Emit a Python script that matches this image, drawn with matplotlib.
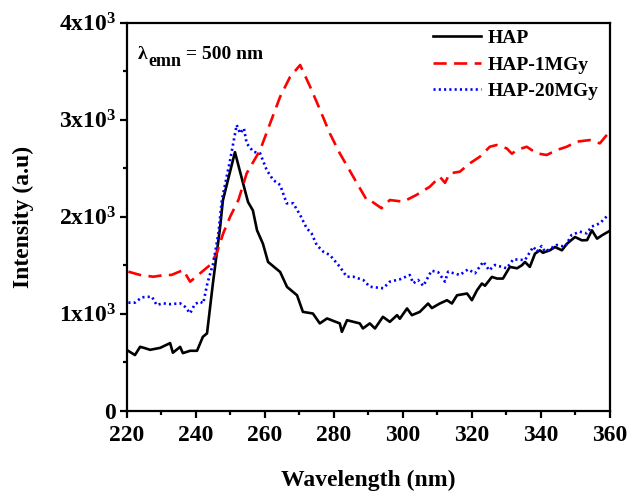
import matplotlib
matplotlib.use("Agg")
import matplotlib.pyplot as plt
from matplotlib.ticker import MultipleLocator, FixedLocator, FixedFormatter

plt.rcParams.update({
    "font.family": ["Liberation Serif", "DejaVu Serif"],
    "font.weight": "bold",
    "mathtext.fontset": "custom",
    "mathtext.rm": "Liberation Serif:bold",
    "mathtext.bf": "Liberation Serif:bold",
    "mathtext.it": "Liberation Serif:bold",
    "mathtext.default": "bf",
})

# HAP (black solid)
hap_x = [220.0, 222.3, 223.8, 225.2, 226.7, 229.6, 232.5, 233.3, 235.4, 236.2,
         238.3, 240.3, 242.0, 243.2, 244.9, 247.0, 247.8, 249.0, 251.3, 254.2,
         255.1, 256.5, 257.7, 259.4, 260.9, 264.4, 266.4, 269.3, 271.0, 273.9,
         275.9, 278.0, 281.7, 282.3, 283.8, 287.5, 288.4, 290.4, 291.9, 294.2,
         296.2, 298.3, 299.1, 301.2, 302.6, 304.9, 307.3, 308.4, 310.7, 312.8,
         314.2, 315.7, 318.6, 320.0, 321.5, 322.9, 323.8, 325.8, 327.3, 329.0,
         331.0, 333.1, 334.5, 335.4, 336.8, 338.3, 339.7, 340.6, 342.6, 344.1,
         346.1, 347.6, 349.9, 351.9, 353.4, 354.8, 356.3, 357.7, 359.7]
hap_y = [627, 576, 661, 647, 630, 650, 699, 600, 660, 596,
         620, 620, 764, 799, 1313, 1895, 2169, 2341, 2666, 2272,
         2152, 2066, 1861, 1724, 1535, 1432, 1278, 1192, 1021, 1004,
         902, 953, 902, 815, 935, 902, 850, 902, 850, 970,
         918, 987, 950, 1056, 987, 1021, 1107, 1060, 1107, 1141,
         1107, 1192, 1210, 1141, 1244, 1313, 1290, 1381, 1364, 1364,
         1484, 1470, 1501, 1535, 1484, 1621, 1655, 1630, 1655, 1689,
         1655, 1724, 1792, 1758, 1760, 1861, 1775, 1809, 1850]

# HAP-1MGy (red dashed)
mgy1_x = [220.4, 223.8, 227.6, 231.0, 232.9, 236.3, 238.3, 241.2, 244.1, 246.0,
          247.9, 249.9, 252.3, 254.7, 258.6, 261.5, 264.4, 267.3, 270.2, 273.1,
          276.0, 278.8, 281.7, 285.6, 289.5, 290.4, 293.8, 296.2, 300.1, 303.9,
          307.8, 310.7, 312.2, 313.6, 316.5, 319.4, 322.3, 325.2, 327.2, 330.1,
          331.6, 333.0, 335.9, 338.8, 341.7, 344.6, 347.5, 350.4, 354.2, 357.1,
          359.5]
mgy1_y = [1435, 1401, 1383, 1401, 1401, 1452, 1332, 1418, 1504, 1624,
          1830, 2001, 2173, 2448, 2688, 2963, 3237, 3443, 3564, 3340,
          3100, 2860, 2654, 2413, 2173, 2173, 2088, 2173, 2156, 2225,
          2310, 2413, 2350, 2448, 2465, 2551, 2619, 2722, 2740, 2705,
          2650, 2688, 2722, 2654, 2637, 2688, 2722, 2774, 2791, 2757,
          2860]

# HAP-20MGy (blue dotted)
mgy20_x = [220.4, 222.3, 224.3, 227.2, 228.6, 230.5, 232.5, 235.4, 236.8, 238.3,
           239.7, 241.2, 242.1, 243.3, 245.0, 246.5, 247.5, 249.9, 250.8, 251.8,
           252.8, 253.9, 254.7, 256.6, 258.6, 260.5, 262.4, 264.4, 266.3, 268.2,
           270.2, 272.1, 273.5, 275.0, 276.9, 278.8, 281.7, 283.7, 285.6, 288.5,
           290.4, 294.3, 296.2, 299.1, 302.0, 303.0, 304.4, 305.9, 308.3, 310.2,
           312.2, 313.1, 316.5, 318.9, 320.9, 323.3, 325.0, 326.7, 330.1, 332.0,
           335.4, 337.8, 338.9, 340.2, 341.2, 344.6, 347.0, 348.9, 351.3, 353.3,
           354.7, 357.1, 359.5]
mgy20_y = [1116, 1116, 1171, 1178, 1092, 1109, 1100, 1109, 1074, 1006,
           1102, 1126, 1109, 1315, 1521, 1830, 2173, 2585, 2757, 2946,
           2860, 2912, 2757, 2671, 2654, 2482, 2379, 2328, 2139, 2139,
           2019, 1882, 1830, 1710, 1641, 1607, 1486, 1383, 1383, 1349,
           1280, 1264, 1332, 1356, 1401, 1315, 1350, 1288, 1445, 1430,
           1332, 1435, 1401, 1459, 1418, 1538, 1449, 1504, 1470, 1562,
           1555, 1692, 1641, 1699, 1641, 1710, 1692, 1813, 1847, 1830,
           1899, 1933, 2019]

y_ticks = [0, 1000, 2000, 3000, 4000]
y_tick_labels = ["0", "1x10$^3$", "2x10$^3$", "3x10$^3$", "4x10$^3$"]

fig = plt.figure(figsize=(6.3, 4.91), dpi=100)
ax = fig.add_axes([0.2016, 0.163, 0.7664, 0.7908])

ax.plot(hap_x, hap_y, color="black", lw=1.9, label="HAP")
ax.plot(mgy1_x, mgy1_y, color="#ff0000", lw=1.9, dashes=(5, 2.8), label="HAP-1MGy")
ax.plot(mgy20_x, mgy20_y, color="#0000ff", lw=1.9, linestyle=(0, (0.8, 1.2)), label="HAP-20MGy")

ax.set_xlim(220, 360)
ax.set_ylim(0, 4000)
ax.xaxis.set_major_locator(MultipleLocator(20))
ax.xaxis.set_minor_locator(MultipleLocator(10))
ax.yaxis.set_major_locator(FixedLocator(y_ticks))
ax.yaxis.set_major_formatter(FixedFormatter(y_tick_labels))
ax.yaxis.set_minor_locator(MultipleLocator(500))

for s in ax.spines.values():
    s.set_linewidth(1.6)
ax.tick_params(which="major", direction="out", length=5, width=1.6, labelsize=17)
ax.tick_params(which="minor", direction="out", length=3, width=1.6)
ax.tick_params(axis="x", which="major", pad=5)
ax.tick_params(axis="y", which="major", pad=3)

ax.set_xlabel("Wavelength (nm)", fontsize=17, fontweight="bold", labelpad=17)
ax.set_ylabel("Intensity (a.u)", fontsize=17, fontweight="bold", labelpad=18)

# lambda_emn annotation, subscript nearly full size as in the original
t1 = ax.text(0.022, 0.895, "λ", transform=ax.transAxes, fontsize=14,
             fontweight="bold", va="bottom", ha="left")
t2 = ax.annotate("emn", xy=(1, 0), xycoords=t1, xytext=(0.5, -5),
                 textcoords="offset points", fontsize=13, fontweight="bold",
                 va="bottom", ha="left")
ax.annotate(" = 500 nm", xy=(1, 0), xycoords=(t2, t1), xytext=(0, 0),
            textcoords="offset points", fontsize=14, fontweight="bold",
            va="bottom", ha="left")

ax.legend(loc="upper right", frameon=False, fontsize=14, handlelength=2.5,
          handletextpad=0.3, labelspacing=0.45, borderaxespad=0.2,
          bbox_to_anchor=(1.0, 1.012))

fig.savefig("out.png", dpi=100)
